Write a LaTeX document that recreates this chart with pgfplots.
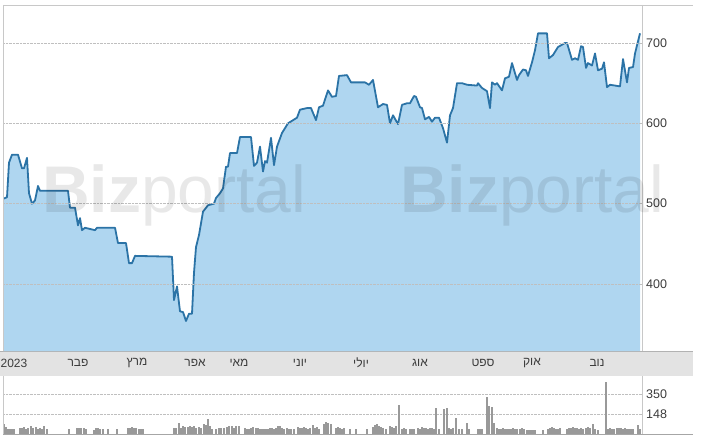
\documentclass[border=0pt]{standalone}
\usepackage{fontspec}
\setmainfont{Liberation Sans}
\newfontfamily\hebfont[Script=Hebrew]{Liberation Sans}
\TeXXeTstate=1
\usepackage{pgfplots}
\usepackage{pgfplotstable}
\pgfplotsset{compat=1.18}
\definecolor{areafill}{RGB}{175,214,240}
\definecolor{linecol}{RGB}{43,115,166}
\definecolor{bandgray}{RGB}{227,227,227}
\definecolor{framegray}{RGB}{200,200,200}
\definecolor{txt}{RGB}{60,60,60}

\pgfplotstableread{
x y
3 506
7 508
9 551
12 561
18 561
22 544
24 544
27 557
29 513
32 500
35 504
38 522
40 516
68 516
70 495
75 495
78 473
80 482
82 467
85 470
95 467
97 470
115 470
118 451
126 451
129 426
132 426
135 435
172 434
174 380
177 397
180 366
183 365
186 354
189 363
192 363
194 414
196 446
199 461
203 490
208 498
214 500
216 507
220 513
223 519
226 546
228 546
230 563
237 563
240 583
251 583
254 547
257 551
260 571
263 540
265 553
267 551
271 582
274 548
277 571
282 588
288 600
297 607
300 617
307 619
311 619
316 604
319 620
323 622
328 641
332 633
336 634
339 659
347 660
351 651
365 651
369 648
373 654
378 620
383 624
387 623
390 600
393 610
398 599
402 623
407 625
410 625
414 634
416 633
420 620
422 619
425 605
429 608
432 602
435 607
439 607
443 594
447 576
450 610
453 619
457 650
462 650
467 648
477 647
478 650
482 644
487 640
490 619
492 651
495 648
497 650
502 641
505 656
509 658
512 675
517 654
519 660
523 667
526 666
528 659
532 676
535 691
538 712
547 712
549 681
553 685
558 695
565 700
567 700
572 679
575 681
578 679
581 696
583 695
586 669
588 675
592 672
595 687
598 666
602 668
604 676
607 645
610 648
620 646
623 680
627 651
629 669
633 670
635 687
640 712
}\price

\pgfplotstableread{
x v
4 10
6 7
8 5
10 5
12 5
14 5
20 6
22 6
24 7
26 5
28 6
31 8
33 6
36 7
38 5
40 6
42 5
44 8
47 5
69 5
77 6
79 6
81 6
84 6
86 5
94 4
96 6
98 6
100 5
103 5
108 5
117 5
128 6
130 6
132 7
134 6
136 6
139 5
141 5
143 5
174 6
176 6
179 11
181 6
183 8
185 7
188 7
190 8
192 7
194 8
196 6
199 7
201 6
204 10
206 9
208 15
210 8
212 5
216 5
219 6
221 6
224 6
227 7
229 8
232 8
234 6
236 8
239 8
245 6
247 5
249 5
251 6
253 7
256 6
258 6
260 5
262 5
264 5
266 5
268 5
270 6
272 6
274 5
276 6
278 8
280 8
282 6
284 5
287 6
289 5
291 5
294 5
298 7
300 6
302 6
304 7
306 6
308 5
310 6
313 9
315 6
317 7
319 5
324 10
326 12
328 11
331 10
336 6
338 7
340 6
342 5
344 6
350 5
356 5
367 5
373 7
375 9
377 10
379 8
381 7
383 6
386 5
390 8
392 7
394 6
396 8
399 29
402 5
404 6
406 5
410 5
412 5
414 5
418 6
420 5
422 7
424 6
426 6
428 5
430 6
432 6
434 5
436 26
439 5
444 25
447 26
449 6
451 5
453 6
456 16
459 5
462 5
467 11
469 5
478 5
480 5
482 5
487 37
489 28
492 27
494 11
497 6
499 5
501 5
503 6
505 5
507 5
509 5
511 5
513 6
515 5
517 5
520 5
522 6
524 5
527 4
529 4
531 4
533 4
535 4
543 4
548 5
550 6
552 7
554 6
556 5
558 5
560 6
567 5
569 6
571 6
573 7
575 6
577 6
579 5
581 6
583 5
586 6
588 7
590 6
593 10
595 5
598 4
606 52
608 5
610 6
612 5
614 5
617 6
619 6
621 6
623 5
625 6
627 5
629 5
631 5
633 5
638 9
640 5
}\volume

\begin{document}
\begin{tikzpicture}
\useasboundingbox (0,0) rectangle (703pt,442pt);
% band
\fill[bandgray] (0,66pt) rectangle (693pt,91pt);
\draw[gray!60, line width=0.8pt] (0,91pt) -- (693pt,91pt);

\begin{axis}[
  at={(3pt,91pt)}, anchor=south west,
  scale only axis, width=639pt, height=346pt,
  xmin=3, xmax=642, ymin=316.6, ymax=747.3,
  axis line style={draw=none},
  axis on top,
  ytick={400,500,600,700},
  yticklabel pos=right,
  major tick length=0pt,
  ymajorgrids,
  grid style={densely dotted, black!25, line width=0.6pt},
  yticklabel style={anchor=west, inner sep=0pt, xshift=4pt, font=\fontsize{12.5}{14}\selectfont, text=txt},
  /pgf/number format/assume math mode=true,
  xtick={14,78,137,195,239,300,361,420,483,532,597},
  xticklabels={2023,{\hebfont\beginR פבר\endR},{\hebfont\beginR מרץ\endR},{\hebfont\beginR אפר\endR},{\hebfont\beginR מאי\endR},{\hebfont\beginR יוני\endR},{\hebfont\beginR יולי\endR},{\hebfont\beginR אוג\endR},{\hebfont\beginR ספט\endR},{\hebfont\beginR אוק\endR},{\hebfont\beginR נוב\endR}},
  xticklabel style={anchor=center, inner sep=0pt, yshift=-12pt, font=\fontsize{12}{14}\selectfont, text=txt},
]
\addplot[fill=areafill, draw=none] table[x=x,y=y] {\price} \closedcycle;
\addplot[linecol, line width=1.8pt, line join=round] table[x=x,y=y] {\price};
\end{axis}

\begin{axis}[
  at={(3pt,8pt)}, anchor=south west,
  scale only axis, width=639pt, height=58pt,
  xmin=3, xmax=642, ymin=0, ymax=58,
  axis line style={draw=none},
  xtick=\empty,
  ytick={20,40}, yticklabels={148,350},
  yticklabel pos=right,
  major tick length=0pt,
  ymajorgrids,
  grid style={densely dotted, black!25, line width=0.6pt},
  yticklabel style={anchor=west, inner sep=0pt, xshift=4pt, font=\fontsize{12.5}{14}\selectfont, text=txt},
]
\addplot[ycomb, black!40, line width=1.6pt] table[x=x,y=v] {\volume};
\end{axis}

% frame lines
\draw[framegray, line width=0.8pt] (3pt,437pt) -- (693pt,437pt);
\draw[framegray, line width=0.8pt] (3pt,437pt) -- (3pt,91pt);
\draw[framegray, line width=0.8pt] (642pt,437pt) -- (642pt,91pt);
\draw[framegray, line width=0.8pt] (3pt,66pt) -- (3pt,8pt);
\draw[framegray, line width=0.8pt] (642pt,66pt) -- (642pt,8pt);
\draw[gray!70, line width=0.8pt] (3pt,8pt) -- (693pt,8pt);

% watermark
\node[anchor=base west, inner sep=0pt, text=black, text opacity=0.09, font=\fontsize{66}{70}\selectfont] at (42pt,229pt) {\textbf{Biz}portal};
\node[anchor=base west, inner sep=0pt, text=black, text opacity=0.09, font=\fontsize{66}{70}\selectfont] at (400pt,229pt) {\textbf{Biz}portal};
\end{tikzpicture}
\end{document}
